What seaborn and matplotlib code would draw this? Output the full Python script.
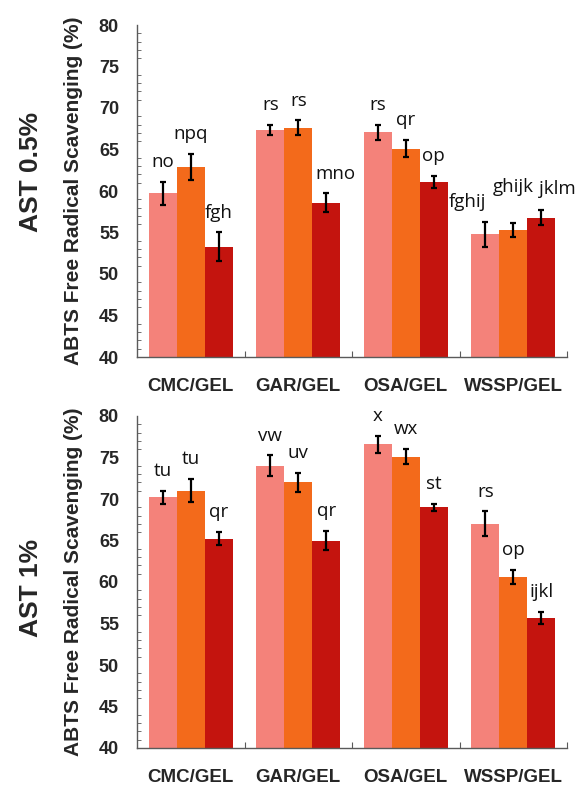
import matplotlib
matplotlib.use("Agg")
import matplotlib.pyplot as plt
from matplotlib.ticker import MultipleLocator, FixedLocator
import seaborn as sns
import pandas as pd

# ---- data ----
blends = ["CMC/GEL", "GAR/GEL", "OSA/GEL", "WSSP/GEL"]
levels = ["Level 1", "Level 2", "Level 3"]

# AST 0.5%
top_l1 = [59.7, 67.4, 67.1, 54.8]
top_l2 = [62.9, 67.6, 65.1, 55.3]
top_l3 = [53.3, 58.6, 61.1, 56.8]
top_e1 = [1.4, 0.6, 0.9, 1.5]
top_e2 = [1.6, 0.9, 1.0, 0.9]
top_e3 = [1.7, 1.1, 0.7, 0.9]
top_lab1 = ["no", "rs", "rs", "fghij"]
top_lab2 = ["npq", "rs", "qr", "ghijk"]
top_lab3 = ["fgh", "mno", "op", "jklm"]

# AST 1%
bot_l1 = [70.2, 74.0, 76.6, 67.0]
bot_l2 = [71.0, 72.0, 75.1, 60.6]
bot_l3 = [65.2, 65.0, 69.0, 55.7]
bot_e1 = [0.8, 1.25, 1.0, 1.5]
bot_e2 = [1.4, 1.1, 0.9, 0.9]
bot_e3 = [0.8, 1.2, 0.45, 0.7]
bot_lab1 = ["tu", "vw", "x", "rs"]
bot_lab2 = ["tu", "uv", "wx", "op"]
bot_lab3 = ["qr", "qr", "st", "ijkl"]

row_titles = ["AST 0.5%", "AST 1%"]
ylabel = "ABTS Free Radical Scavenging (%)"

colors = ["#F4827A", "#F36A1B", "#C4140E"]

# label nudges (style only): (panel, level index, blend index) -> (dx points, dy data units)
nudges = {
    (0, 2, 1): (7, 0.0),
    (0, 0, 3): (-13, 0.0),
    (0, 1, 3): (0, 1.9),
    (0, 2, 3): (12, 0.2),
}


def make_df(v1, v2, v3):
    rows = []
    for lev, vals in zip(levels, [v1, v2, v3]):
        for b, v in zip(blends, vals):
            rows.append({"blend": b, "level": lev, "value": v})
    return pd.DataFrame(rows)


panels = [
    (make_df(top_l1, top_l2, top_l3), [top_e1, top_e2, top_e3], [top_lab1, top_lab2, top_lab3]),
    (make_df(bot_l1, bot_l2, bot_l3), [bot_e1, bot_e2, bot_e3], [bot_lab1, bot_lab2, bot_lab3]),
]

sns.set_theme(style="white")
plt.rcParams["font.family"] = ["Liberation Sans", "DejaVu Sans"]

fig = plt.figure(figsize=(5.82, 7.85), dpi=100)
W, H = 582, 785
axes_boxes = [
    (137 / W, 1 - 357 / H, 430 / W, 332 / H),
    (137 / W, 1 - 748 / H, 430 / W, 332 / H),
]
title_pos = [(31 / W, 1 - 172 / H), (31 / W, 1 - 588 / H)]
spine_col = "#5a5a5a"

for p, (df, errs, labs) in enumerate(panels):
    ax = fig.add_axes(axes_boxes[p])
    sns.barplot(data=df, x="blend", y="value", hue="level", order=blends,
                hue_order=levels, palette=colors, width=0.78, errorbar=None,
                saturation=1, legend=False, ax=ax, linewidth=0)
    bar_conts = list(ax.containers)
    for li, cont in enumerate(bar_conts):
        for bi, bar in enumerate(cont.patches):
            x = bar.get_x() + bar.get_width() / 2
            val = bar.get_height()
            err = errs[li][bi]
            ax.errorbar(x, val, yerr=err, fmt="none", ecolor="black",
                        elinewidth=1.6, capsize=2.3, capthick=1.6, zorder=5)
            dx, dy = nudges.get((p, li, bi), (0, 0.0))
            ax.annotate(labs[li][bi], (x, val + err + 2.4 + dy),
                        xytext=(dx, 0), textcoords="offset points",
                        ha="center", va="center", fontsize=13.5,
                        family=["Open Sans", "DejaVu Sans"], color="#111111")
    ax.set_xlim(-0.5, 3.5)
    ax.set_ylim(40, 80)
    ax.yaxis.set_major_locator(MultipleLocator(5))
    ax.yaxis.set_minor_locator(MultipleLocator(1))
    ax.xaxis.set_minor_locator(FixedLocator([0.5, 1.5, 2.5, 3.5]))
    ax.tick_params(axis="y", which="major", direction="in", length=5,
                   width=0.8, color=spine_col, pad=13, labelsize=13)
    ax.tick_params(axis="y", which="minor", direction="in", length=3,
                   width=0.6, color=spine_col, left=True)
    ax.tick_params(axis="x", which="major", length=0, pad=15, labelsize=13.5)
    ax.tick_params(axis="x", which="minor", direction="in", length=4,
                   width=0.8, color=spine_col, bottom=True)
    for lab in ax.get_xticklabels() + ax.get_yticklabels():
        lab.set_fontweight("bold")
    ax.set_xlabel("")
    ax.set_ylabel(ylabel, fontsize=15, fontweight="bold")
    ax.yaxis.set_label_coords(-0.125, 0.5)
    for s in ["top", "right"]:
        ax.spines[s].set_visible(False)
    for s in ["left", "bottom"]:
        ax.spines[s].set_color(spine_col)
        ax.spines[s].set_linewidth(1.0)
    fig.text(title_pos[p][0], title_pos[p][1], row_titles[p], rotation=90,
             fontsize=19, fontweight="bold", ha="center", va="center")

fig.savefig("out.png", dpi=100)
